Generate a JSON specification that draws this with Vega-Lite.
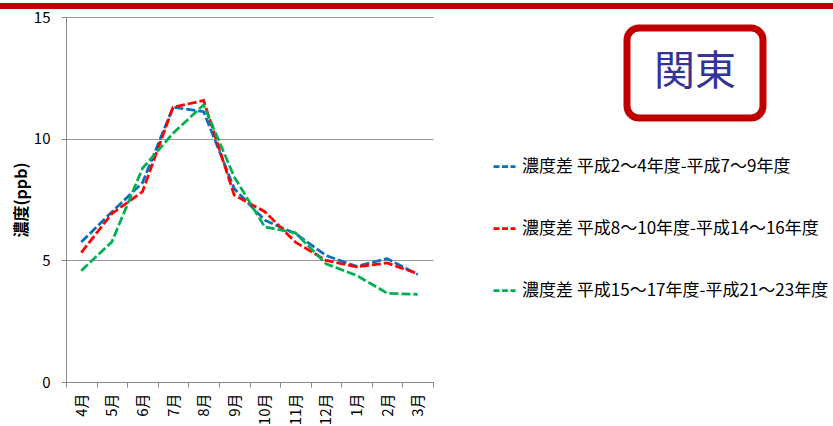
{
  "$schema": "https://vega.github.io/schema/vega-lite/v6.json",
  "padding": 0,
  "background": "white",
  "config": {
    "font": "Noto Sans CJK JP",
    "view": {"stroke": null}
  },
  "datasets": {
    "d": [
      {"month": "4月", "series": "濃度差 平成2～4年度-平成7～9年度", "value": 5.75},
      {"month": "5月", "series": "濃度差 平成2～4年度-平成7～9年度", "value": 6.99},
      {"month": "6月", "series": "濃度差 平成2～4年度-平成7～9年度", "value": 8.19},
      {"month": "7月", "series": "濃度差 平成2～4年度-平成7～9年度", "value": 11.29},
      {"month": "8月", "series": "濃度差 平成2～4年度-平成7～9年度", "value": 11.11},
      {"month": "9月", "series": "濃度差 平成2～4年度-平成7～9年度", "value": 7.95},
      {"month": "10月", "series": "濃度差 平成2～4年度-平成7～9年度", "value": 6.65},
      {"month": "11月", "series": "濃度差 平成2～4年度-平成7～9年度", "value": 6.1},
      {"month": "12月", "series": "濃度差 平成2～4年度-平成7～9年度", "value": 5.2},
      {"month": "1月", "series": "濃度差 平成2～4年度-平成7～9年度", "value": 4.75},
      {"month": "2月", "series": "濃度差 平成2～4年度-平成7～9年度", "value": 5.07},
      {"month": "3月", "series": "濃度差 平成2～4年度-平成7～9年度", "value": 4.42},
      {"month": "4月", "series": "濃度差 平成8～10年度-平成14～16年度", "value": 5.32},
      {"month": "5月", "series": "濃度差 平成8～10年度-平成14～16年度", "value": 6.92},
      {"month": "6月", "series": "濃度差 平成8～10年度-平成14～16年度", "value": 7.82},
      {"month": "7月", "series": "濃度差 平成8～10年度-平成14～16年度", "value": 11.29},
      {"month": "8月", "series": "濃度差 平成8～10年度-平成14～16年度", "value": 11.57},
      {"month": "9月", "series": "濃度差 平成8～10年度-平成14～16年度", "value": 7.68},
      {"month": "10月", "series": "濃度差 平成8～10年度-平成14～16年度", "value": 7.0},
      {"month": "11月", "series": "濃度差 平成8～10年度-平成14～16年度", "value": 5.75},
      {"month": "12月", "series": "濃度差 平成8～10年度-平成14～16年度", "value": 5.0},
      {"month": "1月", "series": "濃度差 平成8～10年度-平成14～16年度", "value": 4.73},
      {"month": "2月", "series": "濃度差 平成8～10年度-平成14～16年度", "value": 4.89},
      {"month": "3月", "series": "濃度差 平成8～10年度-平成14～16年度", "value": 4.45},
      {"month": "4月", "series": "濃度差 平成15～17年度-平成21～23年度", "value": 4.57},
      {"month": "5月", "series": "濃度差 平成15～17年度-平成21～23年度", "value": 5.76},
      {"month": "6月", "series": "濃度差 平成15～17年度-平成21～23年度", "value": 8.78},
      {"month": "7月", "series": "濃度差 平成15～17年度-平成21～23年度", "value": 10.22},
      {"month": "8月", "series": "濃度差 平成15～17年度-平成21～23年度", "value": 11.39},
      {"month": "9月", "series": "濃度差 平成15～17年度-平成21～23年度", "value": 8.43},
      {"month": "10月", "series": "濃度差 平成15～17年度-平成21～23年度", "value": 6.37},
      {"month": "11月", "series": "濃度差 平成15～17年度-平成21～23年度", "value": 6.13},
      {"month": "12月", "series": "濃度差 平成15～17年度-平成21～23年度", "value": 4.86},
      {"month": "1月", "series": "濃度差 平成15～17年度-平成21～23年度", "value": 4.38},
      {"month": "2月", "series": "濃度差 平成15～17年度-平成21～23年度", "value": 3.65},
      {"month": "3月", "series": "濃度差 平成15～17年度-平成21～23年度", "value": 3.6}
    ]
  },
  "vconcat": [
    {
      "width": 833,
      "height": 6,
      "data": {"values": [{"t": ""}]},
      "mark": {"type": "text"},
      "encoding": {"text": {"field": "t"}},
      "view": {"fill": "#C00000", "stroke": null}
    },
    {
      "hconcat": [
        {
          "width": 1,
          "height": 1,
          "data": {"values": [{"t": ""}]},
          "mark": {"type": "text"},
          "encoding": {"text": {"field": "t"}},
          "view": {"stroke": null}
        },
        {
          "hconcat": [
            {
              "width": 367,
              "height": 365,
              "data": {"name": "d"},
              "mark": {"type": "line", "strokeWidth": 2.75, "strokeDash": [9, 3]},
              "encoding": {
                "x": {
                  "field": "month",
                  "type": "ordinal",
                  "sort": ["4月", "5月", "6月", "7月", "8月", "9月", "10月", "11月", "12月", "1月", "2月", "3月"],
                  "scale": {"type": "band", "paddingInner": 0, "paddingOuter": 0},
                  "axis": {
                    "title": null,
                    "tickBand": "extent",
                    "labelAngle": 270,
                    "labelFontSize": 15,
                    "labelColor": "#000000",
                    "labelPadding": 6,
                    "tickSize": 5,
                    "tickColor": "#888888",
                    "domainColor": "#888888",
                    "grid": false
                  }
                },
                "y": {
                  "field": "value",
                  "type": "quantitative",
                  "scale": {"domain": [0, 15], "nice": false},
                  "axis": {
                    "title": "濃度(ppb)",
                    "titleFontSize": 16,
                    "titleFontWeight": "bold",
                    "titleColor": "#000000",
                    "titlePadding": 4,
                    "values": [0, 5, 10, 15],
                    "labelFontSize": 15,
                    "labelColor": "#000000",
                    "labelPadding": 11,
                    "tickSize": 5,
                    "tickColor": "#888888",
                    "domainColor": "#888888",
                    "gridColor": "#999999",
                    "gridWidth": 1
                  }
                },
                "color": {
                  "field": "series",
                  "type": "nominal",
                  "sort": ["濃度差 平成2～4年度-平成7～9年度", "濃度差 平成8～10年度-平成14～16年度", "濃度差 平成15～17年度-平成21～23年度"],
                  "scale": {
                    "domain": ["濃度差 平成2～4年度-平成7～9年度", "濃度差 平成8～10年度-平成14～16年度", "濃度差 平成15～17年度-平成21～23年度"],
                    "range": ["#0070C0", "#FF0000", "#00B050"]
                  },
                  "legend": {
                    "title": null,
                    "orient": "none",
                    "legendX": 492,
                    "legendY": 151,
                    "direction": "vertical",
                    "symbolType": "stroke",
                    "symbolSize": 484,
                    "symbolStrokeWidth": 2.75,
                    "symbolDash": [6, 2.5],
                    "labelFontSize": 17,
                    "labelColor": "#000000",
                    "labelLimit": 400,
                    "labelOffset": 5,
                    "rowPadding": 41,
                    "padding": 0
                  }
                }
              }
            },
            {
              "vconcat": [
                {
                  "width": 136,
                  "height": 1,
                  "data": {"values": [{"t": ""}]},
                  "mark": {"type": "text"},
                  "encoding": {"text": {"field": "t"}},
                  "view": {"stroke": null}
                },
                {
                  "width": 136,
                  "height": 90,
                  "data": {"values": [{"t": "関東"}]},
                  "mark": {"type": "text", "fontSize": 41, "color": "#333399", "baseline": "middle", "align": "center"},
                  "encoding": {"text": {"field": "t"}},
                  "view": {"stroke": "#C00000", "strokeWidth": 7, "cornerRadius": 12, "fill": "white"}
                }
              ],
              "spacing": 10,
              "bounds": "flush"
            }
          ],
          "spacing": 194,
          "bounds": "flush"
        }
      ],
      "spacing": 12
    }
  ],
  "spacing": -1
}
